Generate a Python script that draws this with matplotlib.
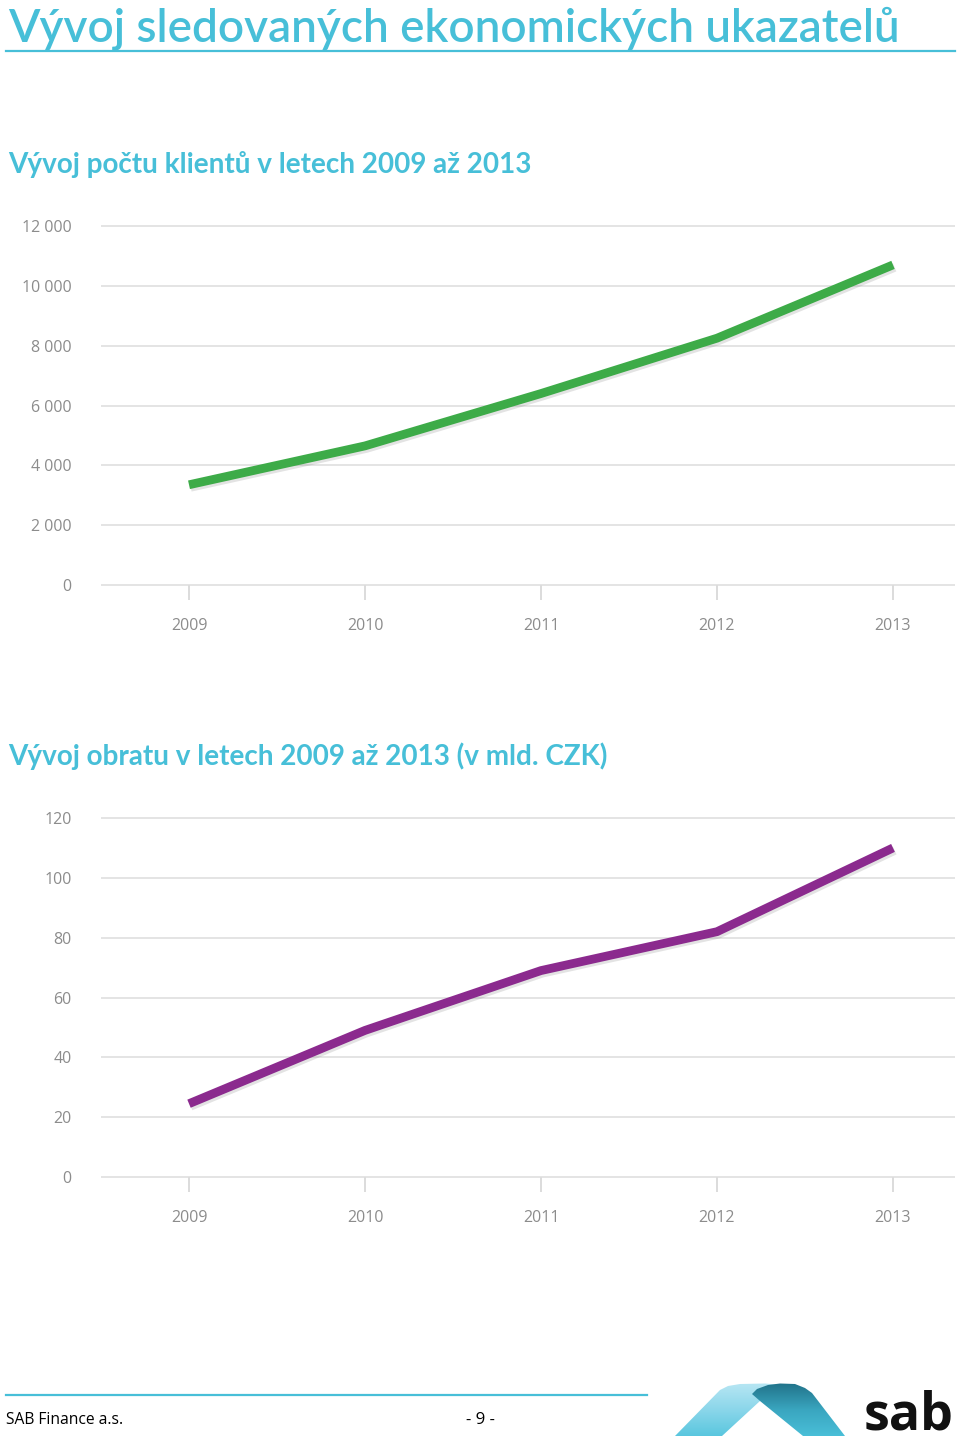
import numpy as np
import matplotlib
matplotlib.use("Agg")
import matplotlib.pyplot as plt
import matplotlib.patheffects as pe
from matplotlib.patches import Polygon
from matplotlib.ticker import FuncFormatter
from matplotlib.colors import LinearSegmentedColormap

# ---------------- data ----------------
years = ["2009", "2010", "2011", "2012", "2013"]
clients = [3350, 4650, 6400, 8250, 10700]
turnover = [24.5, 49, 69, 82, 110]
client_ticks = [0, 2000, 4000, 6000, 8000, 10000, 12000]
turnover_ticks = [0, 20, 40, 60, 80, 100, 120]

main_title = "Vývoj sledovaných ekonomických ukazatelů"
title1 = "Vývoj počtu klientů v letech 2009 až 2013"
title2 = "Vývoj obratu v letech 2009 až 2013 (v mld. CZK)"
footer_left = "SAB Finance a.s."
footer_mid = "- 9 -"
logo_text = "sab"

W, H = 960, 1443
CYAN = "#47bfd8"
GRID = "#dcdcdc"
TICKC = "#8c8c8c"

fig = plt.figure(figsize=(W / 100, H / 100), dpi=100)
fig.patch.set_facecolor("white")


def fx(px):
    return px / W


def fy(py):
    return 1 - py / H


renderer = fig.canvas.get_renderer()


def fit_text(x, y, s, width, ha="left", va="baseline", **kw):
    t = fig.text(fx(x), fy(y), s, ha=ha, va=va, **kw)
    ext = t.get_window_extent(renderer=renderer)
    fs = t.get_fontsize()
    t.set_fontsize(fs * width / ext.width)
    return t


# titles
fit_text(8, 41, main_title, 892, family="Lato", fontweight="semibold", fontsize=34, color=CYAN)
fig.add_artist(plt.Line2D([fx(6), fx(955)], [fy(51), fy(51)], color=CYAN, lw=1.6))
fit_text(8, 173, title1, 524, family="Lato", fontweight="bold", fontsize=20, color=CYAN)
fit_text(8, 765, title2, 599, family="Lato", fontweight="bold", fontsize=20, color=CYAN)


def make_chart(top_px, bottom_px, values, ticks, color, fmt):
    ymax = ticks[-1]
    pad_units = ymax * 0.03
    ppu = (bottom_px - top_px) / ymax
    t = top_px - pad_units * ppu
    b = bottom_px + pad_units * ppu
    left, right = 101, 955
    ax = fig.add_axes([fx(left), fy(b), fx(right) - fx(left), fy(t) - fy(b)])
    ax.set_ylim(-pad_units, ymax + pad_units)
    xr = (right - 189) / 176.0
    ax.set_xlim(-0.5, xr)
    x = np.arange(len(years))
    ax.set_yticks(ticks)
    ax.yaxis.set_major_formatter(FuncFormatter(fmt))
    ax.grid(axis="y", color=GRID, lw=1.1)
    ax.set_axisbelow(True)
    for s in ["left", "right", "top"]:
        ax.spines[s].set_visible(False)
    ax.spines["bottom"].set_position(("data", 0))
    ax.spines["bottom"].set_visible(False)
    ax.set_xticks(x)
    ax.set_xticklabels(years)
    ax.tick_params(axis="x", direction="out", length=11, width=1.4, color=GRID,
                   labelcolor=TICKC, labelsize=11.5, pad=13)
    ax.tick_params(axis="y", length=0, labelcolor=TICKC, labelsize=11.5, pad=21)
    for lab in ax.get_xticklabels() + ax.get_yticklabels():
        lab.set_family("Open Sans")
    ax.plot(x, values, color=color, lw=6.3, solid_capstyle="butt",
            solid_joinstyle="round",
            path_effects=[pe.SimpleLineShadow(offset=(1.2, -1.8), shadow_color="#666666", alpha=0.18),
                          pe.Normal()])
    return ax


make_chart(226, 585, clients, client_ticks, "#3dab48",
           lambda v, p: f"{int(v):,}".replace(",", " "))
make_chart(818, 1177, turnover, turnover_ticks, "#8b2a8e",
           lambda v, p: f"{int(v)}")

# footer
fig.add_artist(plt.Line2D([fx(6), fx(647)], [fy(1395), fy(1395)], color=CYAN, lw=1.6))
fit_text(6, 1424, footer_left, 117, family="Open Sans", fontsize=12, color="black")
fit_text(480, 1424, footer_mid, 29, ha="center", family="Open Sans", fontsize=12, color="black")

# logo (decorative shape)
lax = fig.add_axes([fx(665), fy(1442), fx(855) - fx(665), fy(1378) - fy(1442)])
lax.set_xlim(665, 855)
lax.set_ylim(1442, 1378)
lax.axis("off")
left_poly = [(675, 1436), (722, 1436), (760, 1401), (790, 1388), (782, 1385),
             (765, 1383.5), (740, 1384), (728, 1386), (720, 1390)]
right_poly = [(760, 1401), (752, 1394), (757, 1389), (768, 1385), (780, 1383.5),
              (795, 1384), (805, 1388), (812, 1393), (845, 1436), (803, 1436)]
grad = np.linspace(0, 1, 100).reshape(-1, 1)
cm_l = LinearSegmentedColormap.from_list("l", ["#bfe9f5", "#8ad6ea", "#4fc3dc"])
cm_r = LinearSegmentedColormap.from_list("r", ["#1d6a80", "#3aa6c0", "#4dc4dd"])
for poly, cm, z in [(left_poly, cm_l, 1), (right_poly, cm_r, 2)]:
    p = Polygon(poly, closed=True, facecolor="none", edgecolor="none")
    lax.add_patch(p)
    im = lax.imshow(grad, cmap=cm, extent=[665, 855, 1442, 1378], aspect="auto",
                    origin="upper", zorder=z, interpolation="bilinear")
    im.set_clip_path(p)
fit_text(864, 1442, logo_text, 90, va="bottom", family="Open Sans", fontweight="bold",
         fontsize=44, color="#111111")

fig.savefig("out.png", dpi=100, facecolor="white")
